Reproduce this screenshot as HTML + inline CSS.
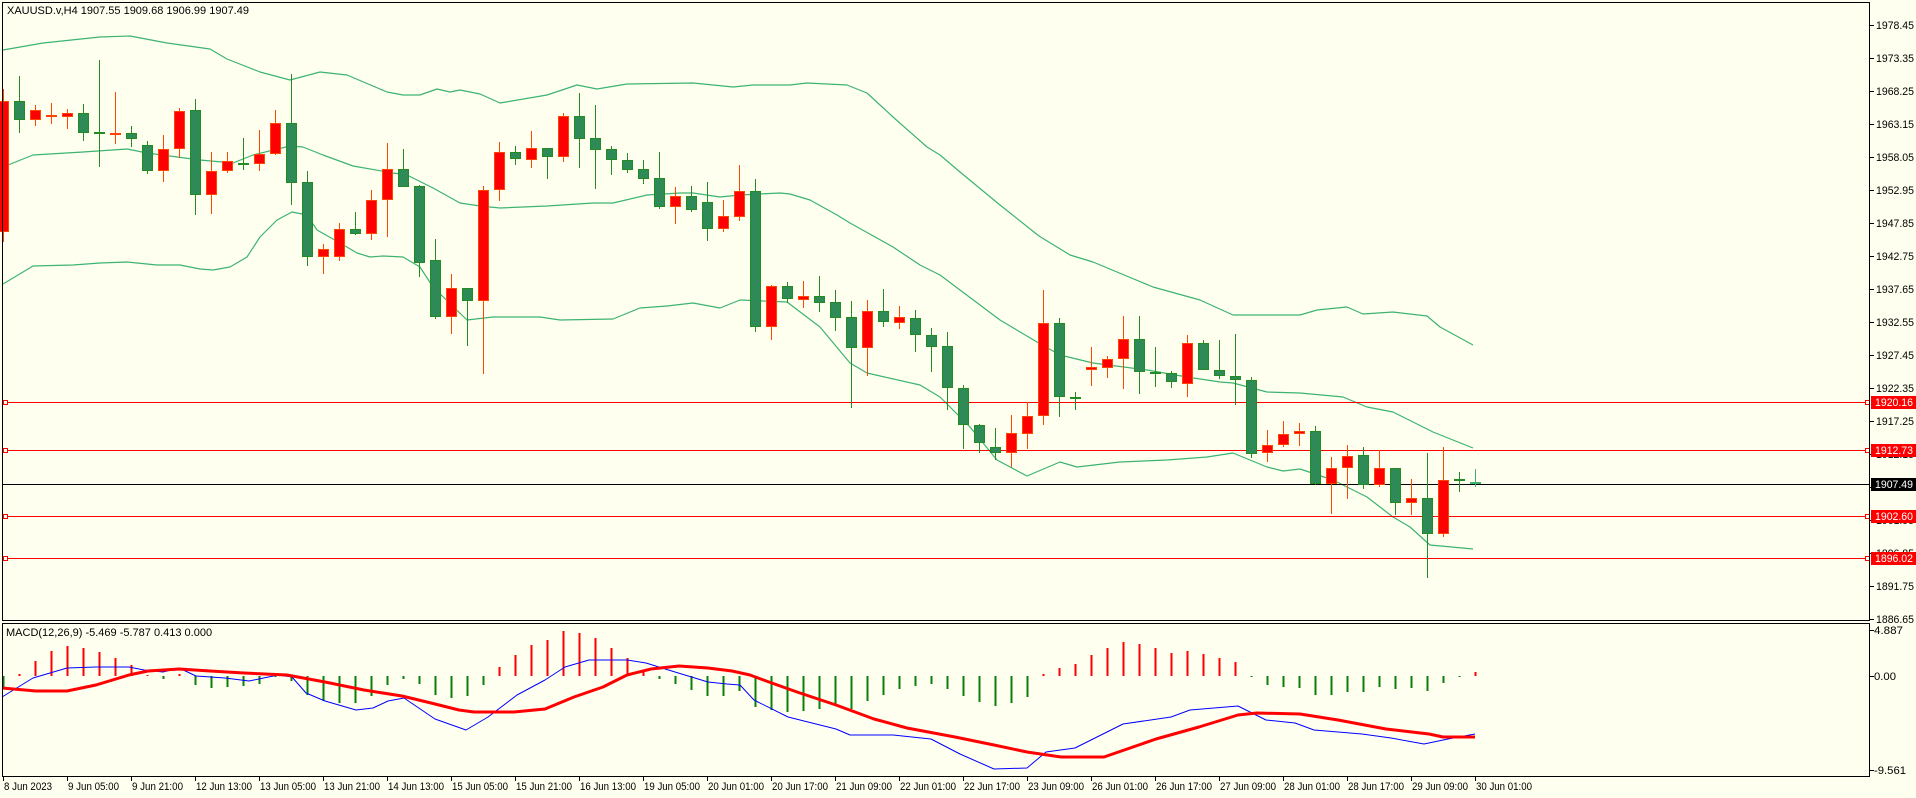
<!DOCTYPE html>
<html><head><meta charset="utf-8">
<style>
html,body{margin:0;padding:0;background:#fffff0;}
svg{display:block;}
text{font-family:"Liberation Sans","DejaVu Sans",sans-serif;font-size:11px;}
</style></head>
<body>
<svg id="s" width="1916" height="798" xmlns="http://www.w3.org/2000/svg">
<rect x="0" y="0" width="1916" height="798" fill="#fffff0"/>
<g id="bands" fill="none" stroke="#3cb371" stroke-width="1"></g>
<g id="hl"></g>
<g id="candles"></g>
<g id="macd"></g>
<g id="axes"></g>
<text x="7" y="14" fill="#000">XAUUSD.v,H4  1907.55 1909.68 1906.99 1907.49</text>
<text x="6" y="636" fill="#000">MACD(12,26,9) -5.469 -5.787 0.413 0.000</text>
</svg>
<script>
var NS="http://www.w3.org/2000/svg";
function el(p,t,a,txt){var e=document.createElementNS(NS,t);for(var k in a)e.setAttribute(k,a[k]);if(txt!==undefined)e.textContent=txt;document.getElementById(p).appendChild(e);return e;}
function pl(p,pts,st,w){el(p,"polyline",{points:pts.map(function(q){return q[0]+","+q[1]}).join(" "),fill:"none",stroke:st,"stroke-width":w,"stroke-linejoin":"round"});}
var up=[[3,50],[43,43],[100,37],[130,36],[167,43],[210,49],[227,59],[260,72],[290,80],[320,72],[347,75],[387,92],[403,95],[420,95],[437,89],[450,92],[460,90],[480,94],[500,103],[547,95],[577,85],[597,89],[627,84],[693,83],[733,87],[753,85],[790,85],[807,83],[847,85],[867,93],[893,117],[927,147],[940,155],[960,172],[1000,205],[1039,236],[1070,255],[1093,262],[1153,287],[1200,300],[1233,315],[1300,315],[1317,310],[1347,307],[1363,314],[1393,312],[1427,316],[1440,327],[1473,345]];
var mid=[[3,167],[33,155],[83,152],[127,149],[147,153],[200,160],[233,163],[253,155],[290,146],[303,147],[323,155],[353,166],[393,173],[407,175],[433,188],[460,203],[480,206],[500,208],[547,206],[593,203],[613,203],[647,195],[680,193],[693,193],[720,197],[740,195],[780,193],[790,194],[810,200],[837,215],[850,223],[893,247],[920,265],[940,275],[960,290],[1000,320],[1037,342],[1060,355],[1093,363],[1147,370],[1187,377],[1220,382],[1233,383],[1267,392],[1300,393],[1343,397],[1367,407],[1393,412],[1433,432],[1473,448]];
var lo=[[3,284],[33,266],[73,265],[100,263],[127,262],[157,265],[180,265],[200,269],[213,270],[230,267],[247,257],[260,237],[277,220],[292,212],[307,215],[317,230],[340,243],[357,253],[370,257],[383,256],[403,257],[420,267],[433,287],[467,320],[493,317],[540,317],[560,320],[613,319],[640,308],[667,306],[693,303],[720,308],[740,300],[787,302],[820,327],[850,363],[867,373],[920,385],[940,397],[970,427],[997,460],[1027,476],[1060,462],[1077,467],[1120,462],[1167,460],[1207,457],[1233,453],[1267,467],[1283,471],[1300,469],[1333,480],[1367,497],[1393,517],[1410,527],[1430,545],[1473,549]];
pl("bands",up,"#3cb371",1.2);pl("bands",mid,"#3cb371",1.2);pl("bands",lo,"#3cb371",1.2);
[[402,"#ff0000"],[450,"#ff0000"],[516,"#ff0000"],[558,"#ff0000"]].forEach(function(h){
 el("hl","line",{x1:3,x2:1870,y1:h[0]+0.5,y2:h[0]+0.5,stroke:h[1],"stroke-width":1});
 el("hl","rect",{x:3.5,y:h[0]-1.5,width:4,height:4,fill:"#fffff0",stroke:h[1]});
 el("hl","rect",{x:1865.5,y:h[0]-1.5,width:4,height:4,fill:"#fffff0",stroke:h[1]});
});
el("hl","line",{x1:3,x2:1870,y1:484.5,y2:484.5,stroke:"#000","stroke-width":1});
var C=[[101,232,89,242,"r"],[101,120,76,133,"g"],[110,120,105,126,"r"],[116,116,103,124,"r"],[113,117,109,129,"r"],[113,133,104,141,"g"],[133,133,60,167,"g"],[134,134,92,144,"r"],[133,139,126,147,"g"],[145,171,141,174,"g"],[149,171,135,182,"r"],[111,149,108,158,"r"],[110,195,99,215,"g"],[171,195,152,214,"r"],[161,171,152,173,"r"],[164,164,138,170,"g"],[154,164,130,171,"r"],[123,154,110,155,"r"],[123,183,74,205,"g"],[182,257,171,266,"g"],[249,257,244,274,"r"],[229,257,223,261,"r"],[229,234,212,235,"g"],[200,234,190,240,"r"],[169,200,143,237,"r"],[169,187,149,187,"g"],[186,263,185,277,"g"],[260,317,239,319,"g"],[288,317,274,334,"r"],[288,301,288,346,"g"],[190,301,186,374,"r"],[152,190,142,201,"r"],[152,159,146,165,"g"],[148,160,131,168,"r"],[148,157,148,179,"g"],[116,157,113,162,"r"],[116,139,93,168,"g"],[138,150,105,189,"g"],[149,160,146,175,"g"],[160,170,153,173,"g"],[169,179,160,184,"g"],[178,207,152,209,"g"],[196,207,187,224,"r"],[196,210,186,212,"g"],[202,229,182,241,"g"],[216,229,200,232,"r"],[191,217,165,221,"r"],[191,327,179,332,"g"],[286,327,285,340,"r"],[286,299,282,303,"g"],[296,300,281,308,"r"],[296,303,276,312,"g"],[302,318,290,331,"g"],[317,348,301,408,"g"],[311,348,300,376,"r"],[311,322,289,327,"g"],[317,323,306,329,"r"],[318,335,310,352,"g"],[335,347,328,372,"g"],[346,388,332,410,"g"],[388,425,385,449,"g"],[425,443,424,453,"g"],[447,453,428,460,"g"],[433,453,415,467,"r"],[416,434,402,449,"r"],[323,416,290,425,"r"],[323,397,318,417,"g"],[397,399,392,410,"g"],[367,370,347,386,"r"],[359,368,356,378,"r"],[339,359,316,389,"r"],[339,372,316,394,"g"],[372,374,347,387,"g"],[373,382,371,388,"g"],[343,384,335,397,"r"],[343,370,340,370,"g"],[370,376,340,379,"g"],[376,380,334,405,"g"],[380,454,377,458,"g"],[445,453,430,462,"r"],[434,445,421,447,"r"],[431,434,423,446,"r"],[431,484,426,485,"g"],[468,484,457,514,"r"],[456,468,445,499,"r"],[455,485,447,489,"g"],[468,485,450,487,"r"],[468,503,468,515,"g"],[498,503,479,515,"r"],[498,534,453,578,"g"],[480,534,447,537,"r"],[480,480,472,492,"g"],[483,483,469,487,"l"]];
C.forEach(function(d,i){
 var c=3+16*i+0.5;
 var wc=d[4]=="r"?"#ff4500":(d[4]=="l"?"#3cb371":"#228b22");
 var fc=d[4]=="r"?"#ff0000":"#2e8b57";
 el("candles","line",{x1:c,x2:c,y1:d[2],y2:d[3],stroke:wc,"stroke-width":1});
 if(d[1]-d[0]<2){el("candles","rect",{x:c-5.5,y:d[0]-1,width:11,height:2,fill:wc});}
 else el("candles","rect",{x:c-5,y:d[0]+0.5,width:10,height:d[1]-d[0]-1,fill:fc,stroke:wc,"stroke-width":1});
});
var H=[687,674,661,651,646,648,652,658,665,675,679,674,685,688,687,686,684,677,681,695,701,703,703,696,685,679,684,695,698,696,685,667,655,645,640,631,633,638,648,658,670,679,684,690,696,696,691,707,710,712,711,709,706,709,701,695,689,686,684,689,696,702,706,703,697,674,668,664,655,648,642,644,648,653,651,654,658,662,677,685,687,688,695,695,692,692,687,689,688,691,683,677,672];
H.forEach(function(v,i){var c=3+16*i-0.5;var y1=Math.min(v,676),y2=Math.max(v,676);
 el("macd","rect",{x:c,y:y1,width:2,height:Math.max(1,y2-y1),fill:v<676?"#ff0000":"#0a800a"});});
var sig=[[2,688],[36,691],[67,691],[96,685],[129,675],[148,671],[179,669],[210,671],[244,673],[287,675],[325,682],[364,690],[402,696],[431,703],[459,710],[474,712],[514,712],[545,709],[574,697],[603,687],[627,675],[651,669],[679,666],[708,668],[732,671],[750,675],[769,682],[797,692],[836,705],[874,719],[907,728],[955,737],[994,745],[1027,752],[1061,757],[1104,757],[1156,739],[1199,727],[1238,715],[1257,713],[1300,714],[1338,720],[1386,729],[1429,734],[1443,737],[1475,737]];
var mc=[[2,697],[33,678],[67,668],[96,667],[129,667],[144,670],[163,672],[179,668],[196,676],[225,678],[249,681],[278,675],[292,677],[306,693],[325,701],[356,710],[373,708],[388,701],[404,698],[435,719],[466,730],[488,717],[517,695],[545,680],[565,667],[589,660],[627,660],[646,663],[675,672],[708,682],[727,684],[740,685],[754,700],[788,717],[836,729],[850,735],[893,735],[931,739],[960,754],[994,769],[1027,768],[1046,752],[1075,748],[1123,724],[1171,717],[1190,710],[1238,706],[1266,720],[1295,723],[1314,730],[1362,734],[1391,738],[1424,744],[1448,739],[1475,734]];
pl("macd",mc,"#0000ff",1);
pl("macd",sig,"#ff0000",3);
el("axes","rect",{x:2.5,y:2.5,width:1867,height:618,fill:"none",stroke:"#000"});
el("axes","rect",{x:2.5,y:623.5,width:1867,height:153,fill:"none",stroke:"#000"});
for(var k=0;k<=18;k++){var p=(1978.45-5.1*k).toFixed(2),y=25+33*k;
 el("axes","line",{x1:1870,x2:1874,y1:y+0.5,y2:y+0.5,stroke:"#000"});
 el("axes","text",{x:1876,y:y+4,fill:"#000","font-size":"10",textLength:"38",lengthAdjust:"spacingAndGlyphs"},p);}
[[630,"4.887",29],[676,"0.00",22],[770,"-9.561",32]].forEach(function(a){
 el("axes","line",{x1:1870,x2:1874,y1:a[0]+0.5,y2:a[0]+0.5,stroke:"#000"});
 el("axes","text",{x:1874,y:a[0]+4,fill:"#000","font-size":"10",textLength:a[2],lengthAdjust:"spacingAndGlyphs"},a[1]);});
[[402,"1920.16","#ff0000"],[450,"1912.73","#ff0000"],[484,"1907.49","#000"],[516,"1902.60","#ff0000"],[558,"1896.02","#ff0000"]].forEach(function(b){
 el("axes","rect",{x:1871,y:b[0]-6,width:45,height:13,fill:b[2]});
 el("axes","text",{x:1875,y:b[0]+4,fill:"#fff","font-size":"10",textLength:"38",lengthAdjust:"spacingAndGlyphs"},b[1]);});
var L=["8 Jun 2023","9 Jun 05:00","9 Jun 21:00","12 Jun 13:00","13 Jun 05:00","13 Jun 21:00","14 Jun 13:00","15 Jun 05:00","15 Jun 21:00","16 Jun 13:00","19 Jun 05:00","20 Jun 01:00","20 Jun 17:00","21 Jun 09:00","22 Jun 01:00","22 Jun 17:00","23 Jun 09:00","26 Jun 01:00","26 Jun 17:00","27 Jun 09:00","28 Jun 01:00","28 Jun 17:00","29 Jun 09:00","30 Jun 01:00"];
L.forEach(function(t,k){var x=3+64*k;
 var w=t.length>=12?56:(t.length==11?51:48);
 el("axes","line",{x1:x+0.5,x2:x+0.5,y1:777,y2:781,stroke:"#000"});
 el("axes","text",{x:x+1,y:790,fill:"#000","font-size":"10",textLength:w,lengthAdjust:"spacingAndGlyphs"},t);});
</script>
</body></html>
